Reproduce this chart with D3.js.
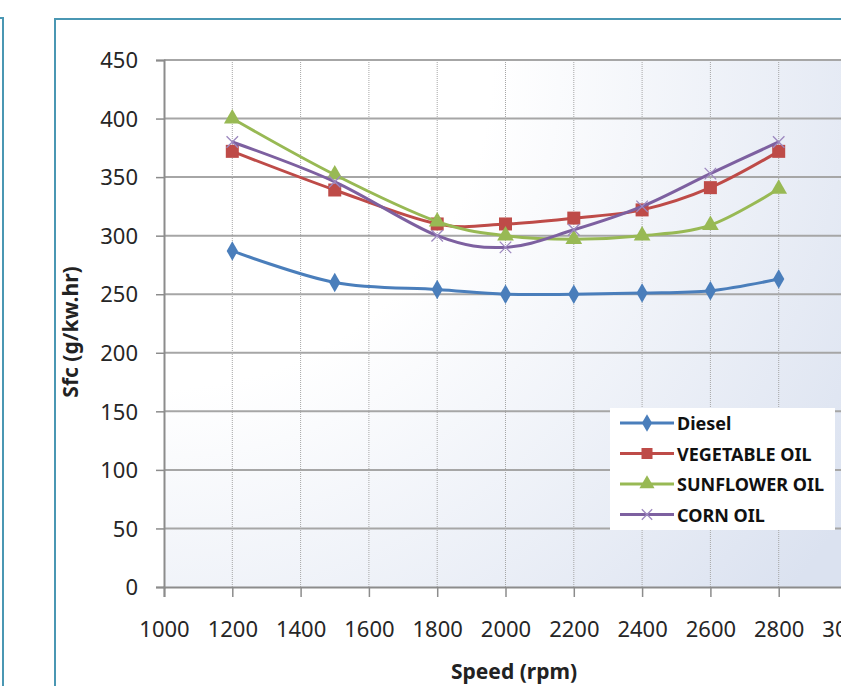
<!DOCTYPE html>
<html>
<head>
<meta charset="utf-8">
<script src="https://cdn.jsdelivr.net/npm/d3@7"></script>
<style>
  body { margin: 0; background: #fff; }
  svg { display: block; font-family: "Noto Sans", "Open Sans", sans-serif; }
</style>
</head>
<body>
<div class="chart"></div>
<script>
// chart values
var speeds = [1200, 1500, 1800, 2000, 2200, 2400, 2600, 2800]
var diesel = [287, 260, 254, 250, 250, 251, 253, 263]
var vegetableOil = [372, 339, 310, 310, 315, 322, 341, 372]
var sunflowerOil = [400, 352, 312, 300, 297, 300, 309, 340]
var cornOil = [380, 346, 300, 290, 305, 325, 353, 380]
var seriesNames = ["Diesel", "VEGETABLE OIL", "SUNFLOWER OIL", "CORN OIL"]
var xTicks = [1000, 1200, 1400, 1600, 1800, 2000, 2200, 2400, 2600, 2800, 3000]
var yTicks = [0, 50, 100, 150, 200, 250, 300, 350, 400, 450]

var width = 841,
    height = 686

var colors = ["#4a7ebb", "#be4b48", "#98b954", "#7d60a0"]
var markers = ["diamond", "square", "triangle", "cross"]

var series = [diesel, vegetableOil, sunflowerOil, cornOil].map(function(vals, i) {
  return { name: seriesNames[i], color: colors[i], marker: markers[i],
           values: vals.map(function(v, j) { return { x: speeds[j], y: v } }) }
})

var svg = d3.select(".chart")
  .append("svg")
    .attr("width", width)
    .attr("height", height)

// gradient for the plot area
var defs = svg.append("defs")
var grad = defs.append("radialGradient")
    .attr("id", "plotbg")
    .attr("gradientUnits", "userSpaceOnUse")
    .attr("cx", 164).attr("cy", 60).attr("r", 820)
grad.append("stop").attr("offset", "0.4").attr("stop-color", "#ffffff")
grad.append("stop").attr("offset", "1").attr("stop-color", "#dbe2f0")

// frames
svg.append("rect")
    .attr("x", -20).attr("y", 18).attr("width", 23).attr("height", 700)
    .attr("fill", "none").attr("stroke", "#4a97b3").attr("stroke-width", 2)
svg.append("rect")
    .attr("x", 55).attr("y", 19).attr("width", 820).attr("height", 700)
    .attr("fill", "#fff").attr("stroke", "#4a97b3").attr("stroke-width", 2)

var x = d3.scaleLinear().domain([1000, 3000]).range([164, 847])
var y = d3.scaleLinear().domain([0, 450]).range([587, 60])

svg.append("rect")
    .attr("x", x(1000)).attr("y", y(450))
    .attr("width", x(3000) - x(1000)).attr("height", y(0) - y(450))
    .attr("fill", "url(#plotbg)")

// grid lines
svg.append("g").selectAll("line")
  .data(xTicks.slice(1))
  .enter().append("line")
    .attr("x1", function(d) { return x(d) }).attr("x2", function(d) { return x(d) })
    .attr("y1", y(450)).attr("y2", y(0))
    .attr("stroke", "#a6a6a6").attr("stroke-width", 1)
    .attr("stroke-dasharray", "1,1")
svg.append("g").selectAll("line")
  .data(yTicks.slice(1))
  .enter().append("line")
    .attr("x1", x(1000)).attr("x2", x(3000))
    .attr("y1", function(d) { return y(d) }).attr("y2", function(d) { return y(d) })
    .attr("stroke", "#a6a6a6").attr("stroke-width", 2)

// axes
var xAxis = svg.append("g")
    .attr("transform", "translate(0," + y(0) + ")")
    .call(d3.axisBottom(x).tickValues(xTicks).tickSize(10).tickPadding(26).tickFormat(d3.format("d")))
var yAxis = svg.append("g")
    .attr("transform", "translate(" + x(1000) + ",0)")
    .call(d3.axisLeft(y).tickValues(yTicks).tickSize(8).tickPadding(18))

;[xAxis, yAxis].forEach(function(a) {
  a.select(".domain").attr("stroke", "#8c8c8c").attr("stroke-width", 2)
  a.selectAll(".tick line").attr("stroke", "#8c8c8c").attr("stroke-width", 1.5)
  a.selectAll(".tick text")
    .attr("fill", "#262626")
    .style("font-size", "22px")
    .style("font-family", "'Noto Sans', sans-serif")
})
xAxis.selectAll(".tick text").attr("dy", "0.62em")
yAxis.selectAll(".tick text").attr("dy", "0.35em")

// axis titles
svg.append("text")
    .attr("x", 514).attr("y", 679)
    .attr("text-anchor", "middle")
    .style("font-size", "21px").style("font-weight", "bold")
    .attr("fill", "#222")
    .text("Speed (rpm)")
svg.append("text")
    .attr("transform", "translate(78,332) rotate(-90)")
    .attr("text-anchor", "middle")
    .style("font-size", "21px").style("font-weight", "bold")
    .attr("fill", "#222")
    .text("Sfc (g/kw.hr)")

// lines
var line = d3.line()
    .x(function(d) { return x(d.x) })
    .y(function(d) { return y(d.y) })
    .curve(d3.curveCardinal)

function drawMarker(g, type, color, size) {
  if (type === "diamond") {
    g.append("path").attr("d", d3.symbol(d3.symbolDiamond, size * 10)()).attr("fill", color)
  } else if (type === "square") {
    g.append("rect").attr("x", -size / 2 - 1).attr("y", -size / 2 - 1)
      .attr("width", size + 2).attr("height", size + 2).attr("fill", color)
  } else if (type === "triangle") {
    g.append("path").attr("d", d3.symbol(d3.symbolTriangle, size * 11)()).attr("fill", color)
  } else {
    g.append("path").attr("d", d3.symbol(d3.symbolX, size * 8)())
      .attr("fill", "none").attr("stroke", "#9d88bf").attr("stroke-width", 1.3)
  }
}

series.forEach(function(s) {
  svg.append("path")
    .datum(s.values)
    .attr("d", line)
    .attr("fill", "none")
    .attr("stroke", s.color)
    .attr("stroke-width", 3)
  svg.append("g").selectAll("g")
    .data(s.values)
    .enter().append("g")
      .attr("transform", function(d) { return "translate(" + x(d.x) + "," + y(d.y) + ")" })
      .each(function() { drawMarker(d3.select(this), s.marker, s.color, 11) })
})

// legend
var legend = svg.append("g").attr("transform", "translate(610,408)")
legend.append("rect")
    .attr("width", 225).attr("height", 122)
    .attr("fill", "#fff")
series.forEach(function(s, i) {
  var row = legend.append("g").attr("transform", "translate(0," + (15 + i * 30.5) + ")")
  row.append("line")
    .attr("x1", 10).attr("x2", 64)
    .attr("stroke", s.color).attr("stroke-width", 3)
  drawMarker(row.append("g").attr("transform", "translate(37,0)"), s.marker, s.color, 9)
  row.append("text")
    .attr("x", 67).attr("y", 7)
    .style("font-size", "18px").style("font-weight", "bold")
    .attr("fill", "#111")
    .text(s.name)
})
</script>
</body>
</html>
